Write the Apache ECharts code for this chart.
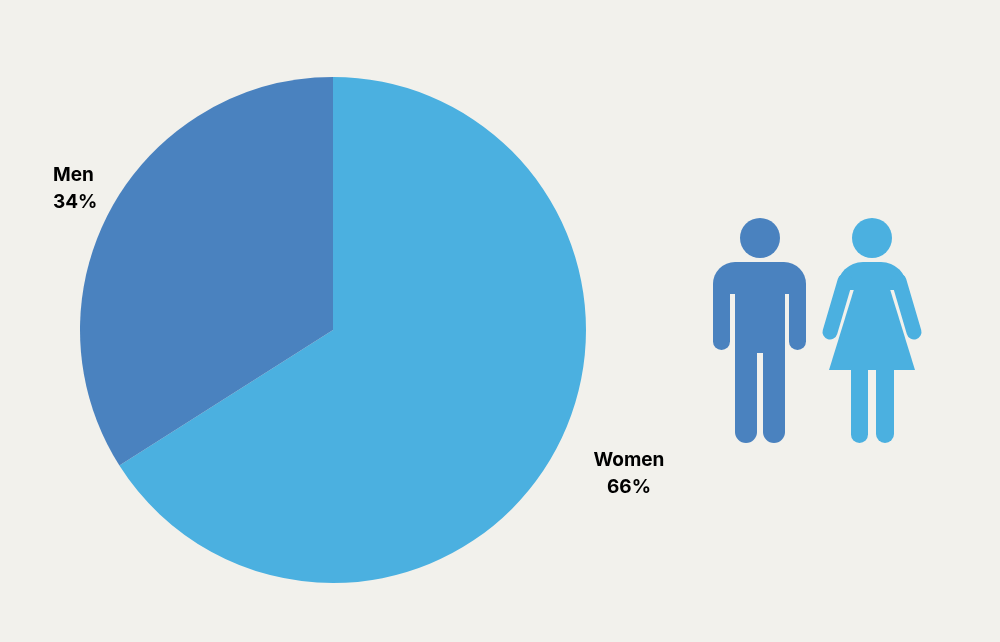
<!DOCTYPE html>
<html>
<head>
<meta charset="utf-8">
<script src="https://cdn.jsdelivr.net/npm/echarts@6/dist/echarts.min.js"></script>
<style>
html,body{margin:0;padding:0;background:#f2f1ec;}
#c{width:1000px;height:642px;}
</style>
</head>
<body>
<div id="c"></div>
<script>
var categories = ['Women', 'Men'];
var shares = [66, 34];
var colors = ['#4bb0e0', '#4a82bf'];

var chart = echarts.init(document.getElementById('c'));
var MEN = colors[1], WOMEN = colors[0];

var graphics = [
  // man
  {type:'circle', shape:{cx:760, cy:238, r:20}, style:{fill:MEN}},
  {type:'rect', shape:{x:713, y:262, width:93, height:32, r:[22,22,0,0]}, style:{fill:MEN}},
  {type:'rect', shape:{x:713, y:285, width:17, height:65, r:[0,0,8.5,8.5]}, style:{fill:MEN}},
  {type:'rect', shape:{x:789, y:285, width:17, height:65, r:[0,0,8.5,8.5]}, style:{fill:MEN}},
  {type:'rect', shape:{x:735, y:285, width:50, height:68}, style:{fill:MEN}},
  {type:'rect', shape:{x:735, y:340, width:22, height:103, r:[0,0,11,11]}, style:{fill:MEN}},
  {type:'rect', shape:{x:763, y:340, width:22, height:103, r:[0,0,11,11]}, style:{fill:MEN}},
  // woman
  {type:'circle', shape:{cx:872, cy:238, r:20}, style:{fill:WOMEN}},
  {type:'rect', shape:{x:837, y:262, width:70, height:28, r:[26,26,0,0]}, style:{fill:WOMEN}},
  {type:'line', shape:{x1:845, y1:281, x2:830, y2:332}, style:{stroke:WOMEN, lineWidth:15, lineCap:'round'}},
  {type:'line', shape:{x1:899, y1:281, x2:914, y2:332}, style:{stroke:WOMEN, lineWidth:15, lineCap:'round'}},
  {type:'polygon', shape:{points:[[855,286],[889,286],[915,370],[829,370]]}, style:{fill:WOMEN}},
  {type:'rect', shape:{x:851, y:365, width:17, height:78, r:[0,0,8.5,8.5]}, style:{fill:WOMEN}},
  {type:'rect', shape:{x:876, y:365, width:18, height:78, r:[0,0,9,9]}, style:{fill:WOMEN}}
];

var labelPos = {
  'Men': {x:53, y:189, align:'left'},
  'Women': {x:629, y:474, align:'center'}
};

chart.setOption({
  backgroundColor: '#f2f1ec',
  animation: false,
  graphic: graphics,
  series: [{
    type: 'pie',
    center: [333, 330],
    radius: [0, 253],
    startAngle: 90,
    clockwise: true,
    data: categories.map(function(c, i){
      return {name: c, value: shares[i], itemStyle:{color: colors[i]}};
    }),
    itemStyle: {borderWidth: 0},
    label: {
      show: true,
      position: 'outside',
      formatter: '{b}\n{c}%',
      color: '#000',
      fontFamily: 'Inter, sans-serif',
      fontWeight: 'bold',
      fontSize: 19,
      lineHeight: 27
    },
    labelLine: {show: false},
    labelLayout: function(p){
      var lp = labelPos[categories[p.dataIndex]];
      return {x: lp.x, y: lp.y, align: lp.align, verticalAlign: 'middle'};
    },
    emphasis: {disabled: true}
  }]
});
</script>
</body>
</html>
